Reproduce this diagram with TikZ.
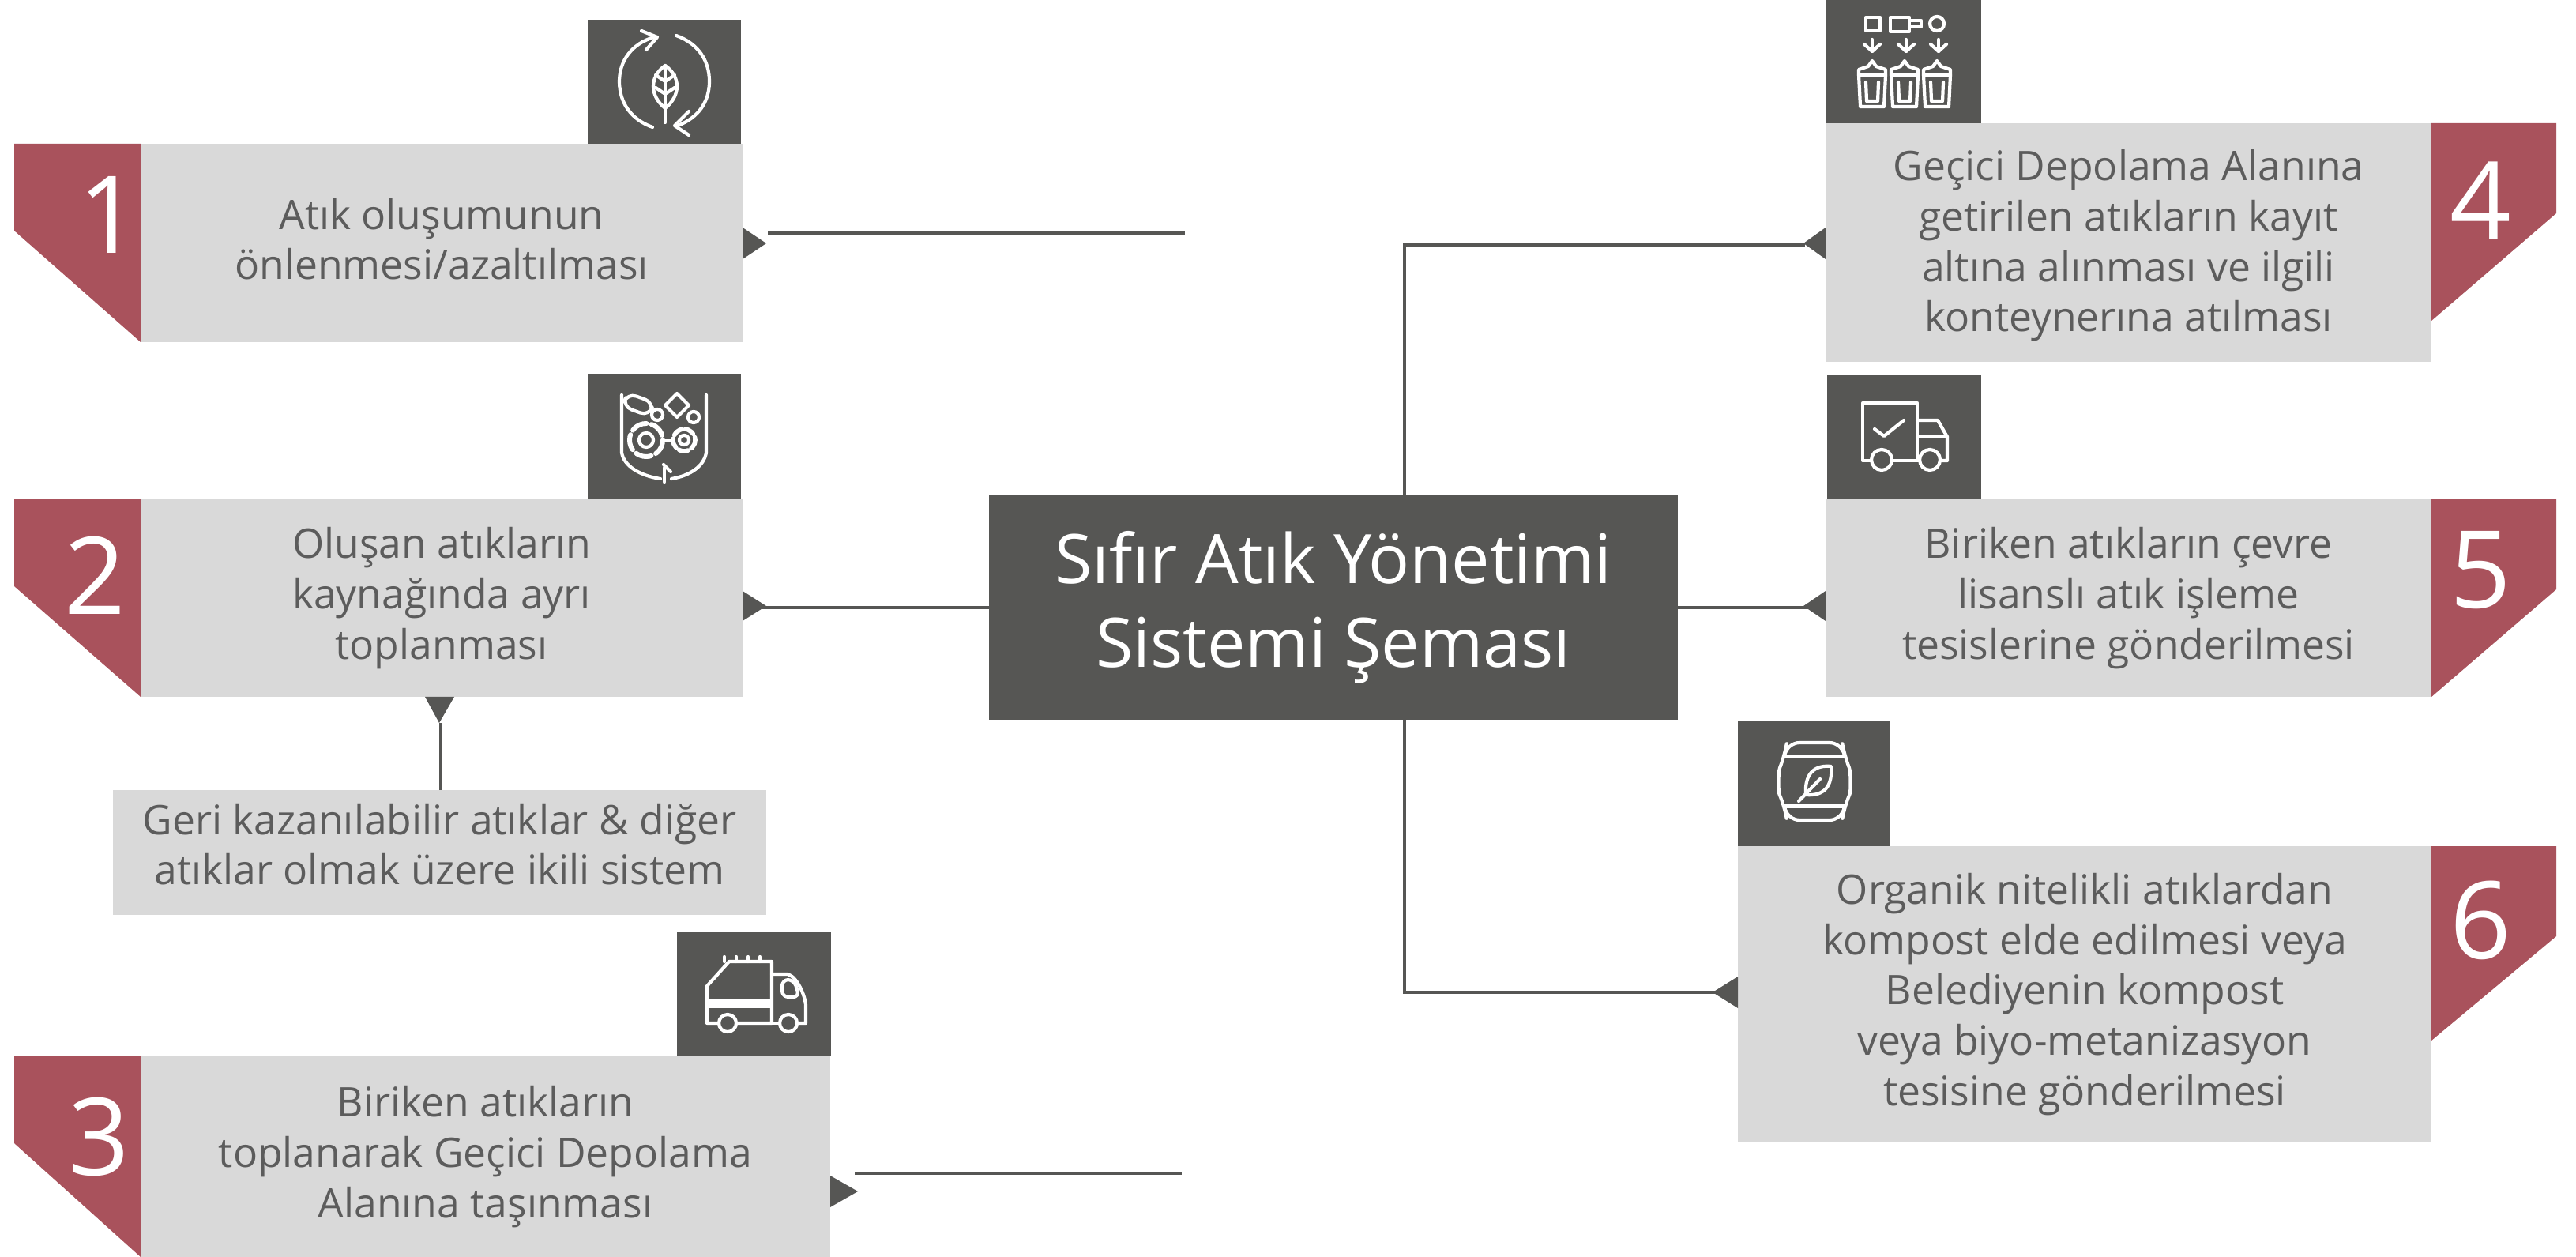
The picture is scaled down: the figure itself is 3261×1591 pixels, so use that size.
\documentclass[tikz,border=0pt]{standalone}
\usepackage{fontspec}
\setmainfont{Open Sans}
\definecolor{dk}{HTML}{565654}
\definecolor{lg}{HTML}{D9D9D9}
\definecolor{rd}{HTML}{A9525C}
\definecolor{tx}{HTML}{5C5C5C}
\tikzset{
  plain/.style={draw=none,inner sep=0pt,outer sep=0pt,anchor=center},
  graybox/.style={plain,fill=lg},
  boxtext/.style={plain,text=tx,align=center,font=\fontsize{12.9}{15.9}\selectfont},
  iconbox/.style={plain,fill=dk},
  titlebox/.style={plain,fill=dk},
  titletext/.style={plain,text=white,align=center,font=\fontsize{21.6}{26.5}\selectfont},
  numlabel/.style={plain,text=white,font=\fontsize{34}{34}\selectfont},
  conn/.style={draw=dk,line width=1pt},
  ic/.style={draw=white,line width=1.05pt,line join=round,line cap=round,fill=none},
}
\newcommand{\pbox}[6]{% name,x1,y1,x2,y2,style
  \pgfmathsetmacro{\pw}{(#4-#2)*0.25}\pgfmathsetmacro{\ph}{(#5-#3)*0.25}
  \node[#6,minimum width=\pw pt,minimum height=\ph pt] (#1) at ({(#2+#4)/2},{(#3+#5)/2}) {};}
\begin{document}
\begin{tikzpicture}[x=0.25pt,y=-0.25pt]
\useasboundingbox (0,0) rectangle (3261,1591);
% red tabs
\fill[rd] (18,182)--(178,182)--(178,433)--(18,292)--cycle;
\fill[rd] (18,632)--(178,632)--(178,882)--(18,742)--cycle;
\fill[rd] (18,1337)--(178,1337)--(178,1591)--(18,1447)--cycle;
\fill[rd] (3078,156)--(3236,156)--(3236,270)--(3078,406)--cycle;
\fill[rd] (3078,632)--(3236,632)--(3236,746)--(3078,882)--cycle;
\fill[rd] (3078,1071)--(3236,1071)--(3236,1185)--(3078,1317)--cycle;
% boxes
\pbox{b1}{178}{182}{940}{433}{graybox}
\pbox{b2}{178}{632}{940}{882}{graybox}
\pbox{b2s}{143}{1000}{970}{1158}{graybox}
\pbox{b3}{178}{1337}{1051}{1591}{graybox}
\pbox{b4}{2311}{156}{3078}{458}{graybox}
\pbox{b5}{2311}{632}{3078}{882}{graybox}
\pbox{b6}{2200}{1071}{3078}{1446}{graybox}
\pbox{ctr}{1252}{626}{2124}{911}{titlebox}
% texts
\node[boxtext,yshift=1.2pt] (t1) at (b1) {Atık oluşumunun\\önlenmesi/azaltılması};
\node[boxtext] (t2) at (b2) {Oluşan atıkların\\kaynağında ayrı\\toplanması};
\node[boxtext,yshift=2.6pt] (t2s) at (b2s) {Geri kazanılabilir atıklar \& diğer\\atıklar olmak üzere ikili sistem};
\node[boxtext] (t3) at (b3) {Biriken atıkların\\toplanarak Geçici Depolama\\Alanına taşınması};
\node[boxtext,yshift=-1pt] (t4) at (b4) {Geçici Depolama Alanına\\getirilen atıkların kayıt\\altına alınması ve ilgili\\konteynerına atılması};
\node[boxtext] (t5) at (b5) {Biriken atıkların çevre\\lisanslı atık işleme\\tesislerine gönderilmesi};
\node[boxtext] (t6) at (b6) {Organik nitelikli atıklardan\\kompost elde edilmesi veya\\Belediyenin kompost\\veya biyo-metanizasyon\\tesisine gönderilmesi};
\node[titletext] (tc) at (ctr) {Sıfır Atık Yönetimi\\Sistemi Şeması};
% icon boxes
\pbox{i1}{744}{25}{938}{182}{iconbox}
\pbox{i2}{744}{474}{938}{632}{iconbox}
\pbox{i3}{857}{1180}{1052}{1337}{iconbox}
\pbox{i4}{2312}{0}{2508}{156}{iconbox}
\pbox{i5}{2313}{475}{2508}{632}{iconbox}
\pbox{i6}{2200}{912}{2393}{1071}{iconbox}
% numbers
\node[numlabel] (n1) at (138,272) {1};
\node[numlabel] (n2) at (120,728) {2};
\node[numlabel] (n3) at (125,1439) {3};
\node[numlabel] (n4) at (3140,254) {4};
\node[numlabel] (n5) at (3140,722) {5};
\node[numlabel] (n6) at (3140,1165) {6};
% markers
\fill[dk] (940,288)--(970,308)--(940,328)--cycle;
\fill[dk] (940,748)--(970,767)--(940,786)--cycle;
\fill[dk] (1051,1488)--(1086,1508)--(1051,1528)--cycle;
\fill[dk] (538,882)--(575,882)--(556,915)--cycle;
\fill[dk] (2311,288)--(2283,308)--(2311,328)--cycle;
\fill[dk] (2311,748)--(2283,767)--(2311,786)--cycle;
\fill[dk] (2200,1236)--(2168,1256)--(2200,1276)--cycle;
% connectors
\coordinate (s1) at (972,295); \coordinate (e1) at (1500,295);
\coordinate (s2) at (965,769);
\coordinate (s3) at (1082,1485); \coordinate (e3) at (1496,1485);
\coordinate (s2s) at (558,915);
\coordinate (s4) at (2285,310);
\coordinate (s5) at (2290,769);
\coordinate (s6) at (2172,1256);
\coordinate (cx) at (1778,768);
\draw[conn] (s1)--(e1);
\draw[conn] (s2)--(ctr.west |- s2);
\draw[conn] (s3)--(e3);
\draw[conn] (s2s)--(b2s.north -| s2s);
\draw[conn] (ctr.north -| cx)--(cx |- s4)--(s4);
\draw[conn] (ctr.east |- s5)--(s5);
\draw[conn] (ctr.south -| cx)--(cx |- s6)--(s6);
% icon 1: leaf in cycle
\begin{scope}[shift={(744,25)},ic]
  \draw (84,22) .. controls (56,30) and (40,52) .. (40,78) .. controls (40,104) and (54,126) .. (82,136);
  \draw (68,14)--(88,22)--(74,38);
  \draw (112,20) .. controls (140,30) and (154,52) .. (154,78) .. controls (154,104) and (140,124) .. (114,134);
  \draw (128,116)--(110,134)--(128,146);
  \draw (98,58) .. controls (78,72) and (78,96) .. (98,112) .. controls (118,96) and (118,72) .. (98,58);
  \draw (98,58)--(98,130);
  \draw (98,78)--(86,70) (98,78)--(110,70) (98,94)--(86,86) (98,94)--(110,86);
\end{scope}
% icon 2: sorting basket
\begin{scope}[shift={(744,474)},ic]
  \draw (43,26)--(43,99) .. controls (46,116) and (66,128) .. (92,132);
  \draw (150,26)--(150,99) .. controls (147,116) and (130,128) .. (106,132);
  \draw[rotate around={-20:(64,38)},rounded corners=3pt] (46,29) rectangle (82,47);
  \draw (113,24)--(128,39)--(113,54)--(98,39)--cycle;
  \draw (88,51) circle (7);
  \draw (134,54) circle (7);
  \draw[dash pattern=on 5pt off 1.6pt,line width=1.5pt] (74,83) circle (21);
  \draw (74,83) circle (9);
  \draw[dash pattern=on 3pt off 1.2pt,line width=1.4pt] (122,83) circle (14);
  \draw (122,83) circle (6);
  \draw (96,84)--(106,84);
  \draw (96,114)--(105,123);
  \draw (97,118)--(97,136);
\end{scope}
% icon 3: collection truck
\begin{scope}[shift={(857,1180)},ic]
  \draw (53,115)--(38,115)--(38,68)--(66,37)--(120,37)--(120,115)--(75,115);
  \draw (60,37)--(60,31) (75,37)--(75,31) (90,37)--(90,31) (105,37)--(105,31);
  \draw[fill=white] (38,86) rectangle (120,94);
  \draw (120,53)--(140,53) .. controls (152,56) and (162,80) .. (163,92)--(163,115)--(152,115);
  \draw (130,115)--(120,115);
  \draw[rounded corners=2pt] (133,60)--(148,60)--(155,82)--(133,82)--cycle;
  \draw (64,115) circle (11);
  \draw (141,115) circle (11);
\end{scope}
% icon 4: three bins
\begin{scope}[shift={(2312,0)},ic]
  \draw (50,22) rectangle (68,39);
  \draw (81,22) rectangle (105,40);
  \draw (105,26)--(120,26)--(120,34)--(105,34);
  \draw (140,30) circle (9);
  \foreach \cx in {58,101,142}{
    \draw (\cx,50)--(\cx,65);
    \draw (\cx-10,56)--(\cx,65)--(\cx+10,56);
  }
  \foreach \cx in {58,99,140}{
    \draw (\cx-17,95)--(\cx-17,88)--(\cx-5,84)--(\cx,77)--(\cx+5,84)--(\cx+17,88)--(\cx+17,95)--cycle;
    \draw (\cx-17,95)--(\cx-15,135)--(\cx+15,135)--(\cx+17,95);
    \draw (\cx-8,104)--(\cx-7,128)--(\cx+7,128)--(\cx+8,104);
  }
\end{scope}
% icon 5: delivery truck with check
\begin{scope}[shift={(2313,475)},ic]
  \draw (56,108)--(45,108)--(45,35)--(114,35)--(114,108)--(82,108);
  \draw (60,68)--(72,77)--(97,57);
  \draw (114,57)--(140,57)--(152,78)--(152,108)--(143,108);
  \draw (114,78)--(152,78);
  \draw (114,108)--(117,108);
  \draw (69,107) circle (13);
  \draw (130,107) circle (13);
\end{scope}
% icon 6: compost bag
\begin{scope}[shift={(2200,912)},ic]
  \draw[rounded corners=4pt] (62,28)--(132,28)--(135,45) .. controls (143,65) and (143,90) .. (135,108)--(132,126)--(62,126)--(59,108) .. controls (51,90) and (51,65) .. (59,45)--cycle;
  \draw (59,46)--(135,46);
  \draw[line width=1.6pt] (59,108)--(135,108);
  \draw (118,58) .. controls (98,56) and (84,66) .. (86,94) .. controls (110,96) and (120,82) .. (118,58)--cycle;
  \draw (77,102)--(104,74);
\end{scope}
\end{tikzpicture}
\end{document}
